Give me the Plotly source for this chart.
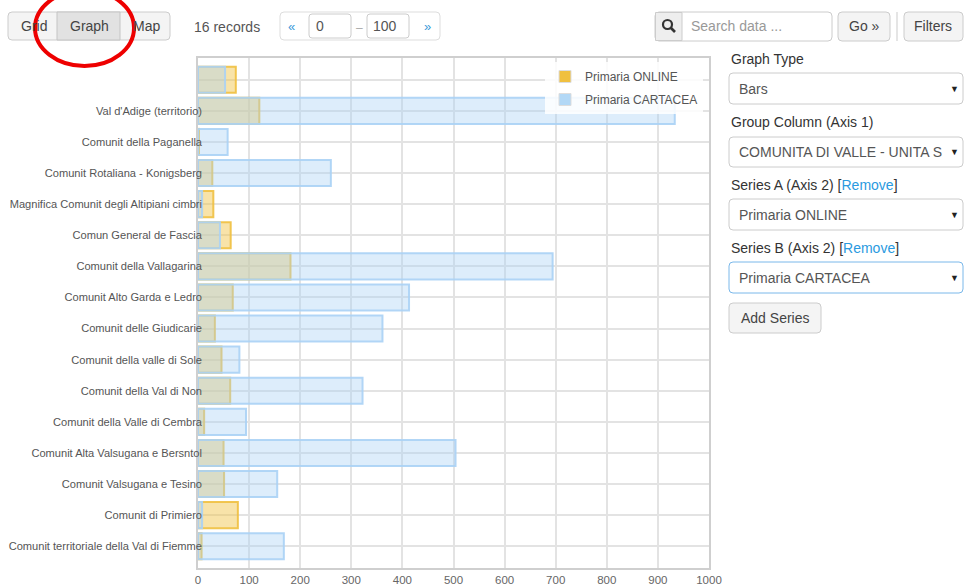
import plotly.graph_objects as go

# ---------------- data ----------------
categories = [
    " ",
    "Val d'Adige (territorio)",
    "Comunit della Paganella",
    "Comunit Rotaliana - Konigsberg",
    "Magnifica Comunit degli Altipiani cimbri",
    "Comun General de Fascia",
    "Comunit della Vallagarina",
    "Comunit Alto Garda e Ledro",
    "Comunit delle Giudicarie",
    "Comunit della valle di Sole",
    "Comunit della Val di Non",
    "Comunit della Valle di Cembra",
    "Comunit Alta Valsugana e Bersntol",
    "Comunit Valsugana e Tesino",
    "Comunit di Primiero",
    "Comunit territoriale della Val di Fiemme",
]
primaria_online = [74, 120, 2, 28, 30, 64, 181, 68, 33, 46, 63, 12, 50, 51, 78, 7]
primaria_cartacea = [53, 933, 58, 260, 8, 43, 694, 413, 361, 81, 322, 94, 504, 155, 8, 168]
series_names = ["Primaria ONLINE", "Primaria CARTACEA"]
x_ticks = [0, 100, 200, 300, 400, 500, 600, 700, 800, 900, 1000]

# ---------------- geometry helpers ----------------
W, H = 965, 586
L, R, T, B = 198, 709, 58, 568          # plot area in window pixels
FONT = "Liberation Sans, Arial, sans-serif"


def px(x):
    return (x - L) / (R - L)


def py(y):
    return (B - y) / (B - T)


ORANGE = (240, 192, 64)
BLUE = (170, 210, 245)


def rgba(c, a):
    return f"rgba({c[0]},{c[1]},{c[2]},{a})"


fig = go.Figure()

fig.add_trace(go.Bar(
    y=categories, x=primaria_online, orientation="h", name=series_names[0],
    width=0.84, showlegend=False,
    marker=dict(color=rgba(ORANGE, 0.45), line=dict(color=rgba(ORANGE, 0.9), width=2)),
))
fig.add_trace(go.Bar(
    y=categories, x=primaria_cartacea, orientation="h", name=series_names[1],
    width=0.84, showlegend=False,
    marker=dict(color=rgba(BLUE, 0.4), line=dict(color=rgba(BLUE, 0.9), width=2)),
))
# legend entries (solid swatches)
fig.add_trace(go.Bar(y=[None], x=[None], orientation="h", name=series_names[0], legendgroup="a",
                     marker=dict(color=rgba(ORANGE, 1), line=dict(color="#dddddd", width=1))))
fig.add_trace(go.Bar(y=[None], x=[None], orientation="h", name=series_names[1], legendgroup="b",
                     marker=dict(color=rgba((178, 216, 246), 1), line=dict(color="#dddddd", width=1))))

shapes = []
annos = []


def rrect(x0, y0, x1, y1, r=4, fill="#ffffff", line="#cccccc", lw=1):
    X0, X1, Y0, Y1 = px(x0), px(x1), py(y0), py(y1)
    rx, ry = r / (R - L), r / (B - T)
    path = (f"M {X0+rx},{Y0} L {X1-rx},{Y0} Q {X1},{Y0} {X1},{Y0-ry} "
            f"L {X1},{Y1+ry} Q {X1},{Y1} {X1-rx},{Y1} L {X0+rx},{Y1} "
            f"Q {X0},{Y1} {X0},{Y1+ry} L {X0},{Y0-ry} Q {X0},{Y0} {X0+rx},{Y0} Z")
    shapes.append(dict(type="path", path=path, xref="paper", yref="paper",
                       fillcolor=fill, line=dict(color=line, width=lw), layer="above"))


def rect(x0, y0, x1, y1, fill="#ffffff", line="#cccccc", lw=1):
    shapes.append(dict(type="rect", x0=px(x0), x1=px(x1), y0=py(y1), y1=py(y0),
                       xref="paper", yref="paper", fillcolor=fill,
                       line=dict(color=line, width=lw), layer="above"))


def vline(x, y0, y1, color="#cccccc", lw=1):
    shapes.append(dict(type="line", x0=px(x), x1=px(x), y0=py(y0), y1=py(y1),
                       xref="paper", yref="paper", line=dict(color=color, width=lw), layer="above"))


def txt(x, y, s, size=14, color="#333333", anchor="left", **kw):
    annos.append(dict(x=px(x), y=py(y), xref="paper", yref="paper", text=s,
                      showarrow=False, xanchor=anchor, yanchor="middle",
                      font=dict(size=size, color=color, family=FONT), **kw))


# ---- button group Grid / Graph / Map ----
rrect(8, 12, 170, 40, fill="#f4f4f4", line="#cccccc")
rect(57, 12, 120, 40, fill="#e2e2e2", line="#c4c4c4")
txt(34, 26, "Grid", anchor="center", color="#444444")
txt(89, 26, "Graph", anchor="center", color="#444444")
txt(146, 26, "Map", anchor="center", color="#444444")

# red ellipse
shapes.append(dict(type="circle", x0=px(35), x1=px(134), y0=py(66), y1=py(-10),
                   xref="paper", yref="paper", line=dict(color="#ee0000", width=4), layer="above"))

# records / pagination
txt(192, 27, "16 records", color="#555555")
rrect(280, 12, 440, 40, fill="#ffffff", line="#dddddd")
txt(291, 27, "«", color="#3a9ad9", anchor="center", size=13)
rrect(309, 14, 351, 38, fill="#ffffff", line="#cccccc", r=3)
txt(314, 26, "0", color="#555555")
txt(359, 28, "–", color="#aaaaaa", anchor="center", size=12)
rrect(367, 14, 409, 38, fill="#ffffff", line="#cccccc", r=3)
txt(371, 26, "100", color="#555555")
txt(427, 27, "»", color="#3a9ad9", anchor="center", size=13)

# search
rrect(655, 12, 832, 41, fill="#ffffff", line="#cccccc")
rect(655.5, 12.5, 682, 40.5, fill="#eeeeee", line="#cccccc")
shapes.append(dict(type="circle", x0=px(663), x1=px(672), y0=py(29), y1=py(20),
                   xref="paper", yref="paper", line=dict(color="#333333", width=2.2), layer="above"))
shapes.append(dict(type="line", x0=px(671), x1=px(675), y0=py(28), y1=py(32),
                   xref="paper", yref="paper", line=dict(color="#333333", width=2.6), layer="above"))
txt(689, 26, "Search data ...", color="#999999")
rrect(838, 12, 890, 41, fill="#f4f4f4", line="#cccccc")
txt(864, 26, "Go »", anchor="center", color="#444444")
vline(897, 12, 41, color="#dddddd", lw=1.5)
rrect(904, 12, 963, 41, fill="#f4f4f4", line="#cccccc")
txt(933, 26, "Filters", anchor="center", color="#444444")

# right panel
txt(729, 59, "Graph Type")
rrect(729, 73, 963, 104, fill="#ffffff", line="#cccccc")
txt(737, 89, "Bars", color="#555555")
txt(954, 89, "▼", anchor="center", size=9, color="#222222")

txt(729, 122, "Group Column (Axis 1)")
rrect(729, 137, 963, 167, fill="#ffffff", line="#cccccc")
txt(737, 152, "COMUNITA DI VALLE - UNITA S", color="#555555", width=204, align="left")
txt(954, 152, "▼", anchor="center", size=9, color="#222222")

txt(729, 185, "Series A (Axis 2) [<span style='color:#2a9ae0'>Remove</span>]")
rrect(729, 199, 963, 230, fill="#ffffff", line="#cccccc")
txt(737, 215, "Primaria ONLINE", color="#555555")
txt(954, 215, "▼", anchor="center", size=9, color="#222222")

txt(729, 248, "Series B (Axis 2) [<span style='color:#2a9ae0'>Remove</span>]")
rrect(729, 262, 963, 293, fill="#ffffff", line="#7ab8ea")
txt(737, 278, "Primaria CARTACEA", color="#555555")
txt(954, 278, "▼", anchor="center", size=9, color="#222222")

rrect(729, 303, 821, 333, fill="#f4f4f4", line="#cccccc")
txt(775, 318, "Add Series", anchor="center", color="#444444")

GRID = "#e3e3e3"
fig.update_layout(
    width=W, height=H,
    margin=dict(l=L, r=W - R, t=T, b=H - B, autoexpand=False),
    paper_bgcolor="#ffffff", plot_bgcolor="#ffffff",
    barmode="overlay",
    font=dict(family=FONT, color="#555555", size=11),
    xaxis=dict(range=[0, 1000], tickvals=x_ticks, showgrid=True, gridcolor=GRID, gridwidth=1.5,
               showline=True, linecolor="#cfcfcf", linewidth=1.5, mirror=True, zeroline=False,
               ticks="", tickfont=dict(size=11.5, color="#666666"), automargin=False, fixedrange=True),
    yaxis=dict(type="category", categoryorder="array", categoryarray=categories,
               range=[len(categories) - 0.3, -0.7], showgrid=True, gridcolor=GRID, gridwidth=1.5,
               showline=True, linecolor="#cfcfcf", linewidth=1.5, mirror=True, zeroline=False,
               ticks="", ticklabelstandoff=-8, tickfont=dict(size=11.1, color="#555555"),
               automargin=False, fixedrange=True),
    legend=dict(x=px(545), y=py(62), xanchor="left", yanchor="top",
                bgcolor="rgba(255,255,255,0.85)", font=dict(size=12, color="#555555"),
                tracegroupgap=4, itemwidth=30),
    shapes=shapes, annotations=annos,
    showlegend=True,
)

fig.write_html(
    "out.html",
    config={"displayModeBar": False},
    post_script="document.body.style.margin='0';document.body.style.overflow='hidden';",
)
